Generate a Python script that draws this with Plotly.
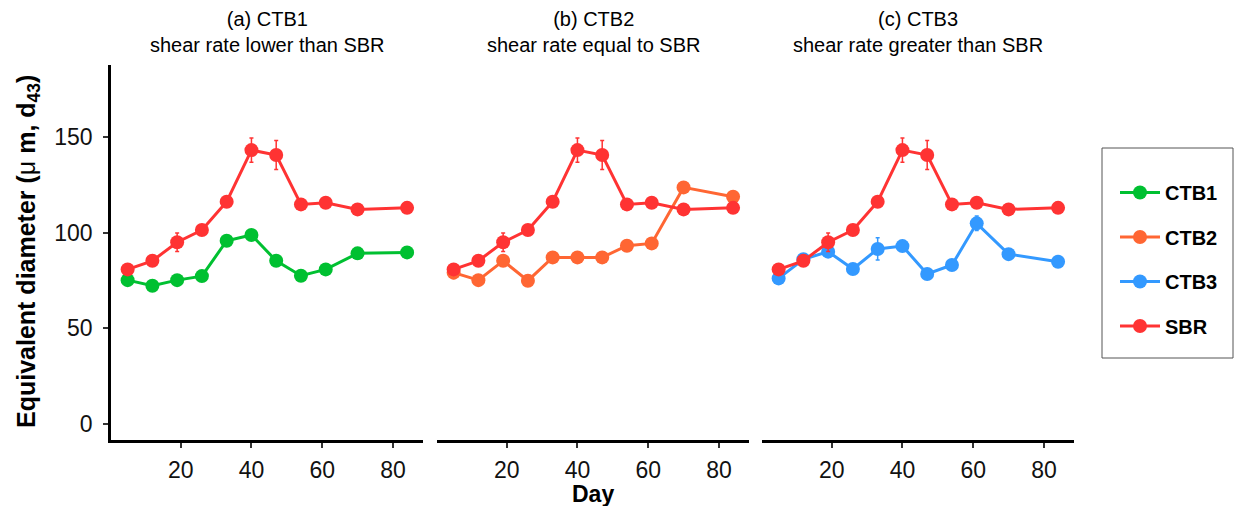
import plotly.graph_objects as go

days = [5, 12, 19, 26, 33, 40, 47, 54, 61, 70, 84]
sbr = [80.8, 85.3, 95.0, 101.4, 116.2, 143.2, 140.6, 114.8, 115.7, 112.2, 113.0]
sbr_err = [2.0, 2.0, 4.8, 2.0, 1.5, 6.3, 7.6, 1.5, 1.5, 1.5, 1.5]
ctb1 = [75.2, 72.3, 75.2, 77.3, 95.8, 98.8, 85.3, 77.5, 80.8, 89.2, 89.7]
ctb1_err = [1.0, 1.0, 1.0, 1.0, 1.5, 1.5, 1.0, 1.0, 1.0, 1.0, 1.0]
ctb2 = [79.1, 75.2, 85.3, 74.9, 87.1, 87.1, 87.1, 93.2, 94.4, 123.7, 118.8]
ctb2_err = [3.0, 1.0, 1.0, 1.0, 1.0, 1.0, 1.0, 1.0, 1.0, 1.0, 1.5]
ctb3 = [76.1, 86.1, 90.1, 81.0, 91.5, 93.0, 78.4, 83.1, 104.9, 88.8, 84.8]
ctb3_err = [2.0, 2.5, 2.0, 1.0, 5.8, 1.0, 1.0, 1.0, 3.8, 1.0, 1.0]

panel_titles = ["(a) CTB1<br>shear rate lower than SBR",
                "(b) CTB2<br>shear rate equal to SBR",
                "(c) CTB3<br>shear rate greater than SBR"]
y_ticks = [0, 50, 100, 150]
x_ticks = [20, 40, 60, 80]

colors = {"CTB1": "#00C031", "CTB2": "#FF6633", "CTB3": "#3399FF", "SBR": "#FF3333"}
FONT = "Liberation Sans, Arial, sans-serif"
W, H = 1236, 506

fig = go.Figure()

def add_series(name, vals, errs, xa, ya, show):
    fig.add_trace(go.Scatter(
        x=days, y=vals, mode="lines+markers", name=name,
        xaxis=xa, yaxis=ya, legendgroup=name, showlegend=show,
        line=dict(color=colors[name], width=3),
        marker=dict(color=colors[name], size=14),
        error_y=dict(type="data", array=errs, visible=True,
                     color=colors[name], thickness=1.5, width=2),
        cliponaxis=False,
    ))

add_series("CTB1", ctb1, ctb1_err, "x", "y", True)
add_series("CTB2", ctb2, ctb2_err, "x2", "y2", True)
add_series("CTB3", ctb3, ctb3_err, "x3", "y3", True)
add_series("SBR", sbr, sbr_err, "x", "y", True)
add_series("SBR", sbr, sbr_err, "x2", "y2", False)
add_series("SBR", sbr, sbr_err, "x3", "y3", False)

px_domains = [(111, 423), (437, 749), (762, 1074)]
y_dom = [1 - 440 / H, 1 - 65 / H]
xr = [0.3, 88.5]
yr = [-8.4, 187.7]

for i, (a, b) in enumerate(px_domains):
    sfx = "" if i == 0 else str(i + 1)
    fig.update_layout(**{
        "xaxis" + sfx: dict(
            domain=[a / W, b / W], range=xr, anchor="y" + sfx,
            showline=True, linecolor="black", linewidth=2.5,
            ticks="outside", ticklen=5, tickwidth=2, tickcolor="#333333",
            tickvals=x_ticks, showgrid=False, zeroline=False,
            tickfont=dict(family=FONT, size=23, color="#111111"),
            ticklabelstandoff=3,
        ),
        "yaxis" + sfx: dict(
            domain=y_dom, range=yr, anchor="x" + sfx,
            showline=(i == 0), linecolor="black", linewidth=2.5,
            ticks="outside" if i == 0 else "", ticklen=5, tickwidth=2,
            tickcolor="#333333", tickvals=y_ticks, showticklabels=(i == 0),
            showgrid=False, zeroline=False,
            tickfont=dict(family=FONT, size=23, color="#111111"),
            ticklabelstandoff=6,
        ),
    })

annotations = []
for (a, b), t in zip(px_domains, panel_titles):
    annotations.append(dict(
        x=(a + b) / 2 / W, y=1 - 32 / H, xref="paper", yref="paper",
        text=t, showarrow=False, xanchor="center", yanchor="middle",
        font=dict(family=FONT, size=20, color="black"),
    ))
annotations.append(dict(
    x=593 / W, y=1 - 494 / H, xref="paper", yref="paper",
    text="<b>Day</b>", showarrow=False, xanchor="center", yanchor="middle",
    font=dict(family=FONT, size=23, color="black"),
))
annotations.append(dict(
    x=28 / W, y=1 - 252 / H, xref="paper", yref="paper", textangle=-90,
    text="<b>Equivalent diameter (</b>μ<b> m, d<sub>43</sub>)</b>",
    showarrow=False, xanchor="center", yanchor="middle",
    font=dict(family=FONT, size=25, color="black"),
))

fig.update_layout(
    width=W, height=H,
    margin=dict(l=0, r=0, t=0, b=0),
    paper_bgcolor="white", plot_bgcolor="white",
    annotations=annotations,
    shapes=[dict(type="rect", xref="paper", yref="paper",
                 x0=1102 / W, x1=1233 / W, y0=1 - 358 / H, y1=1 - 148 / H,
                 line=dict(color="#555555", width=1))],
    legend=dict(
        x=1115 / W, y=1 - 173 / H, xanchor="left", yanchor="top",
        font=dict(family=FONT, size=20, color="black", weight="bold"),
        traceorder="grouped", tracegroupgap=15.5, itemwidth=40,
        bgcolor="rgba(0,0,0,0)", borderwidth=0,
    ),
)

fig.write_html("out.html")
